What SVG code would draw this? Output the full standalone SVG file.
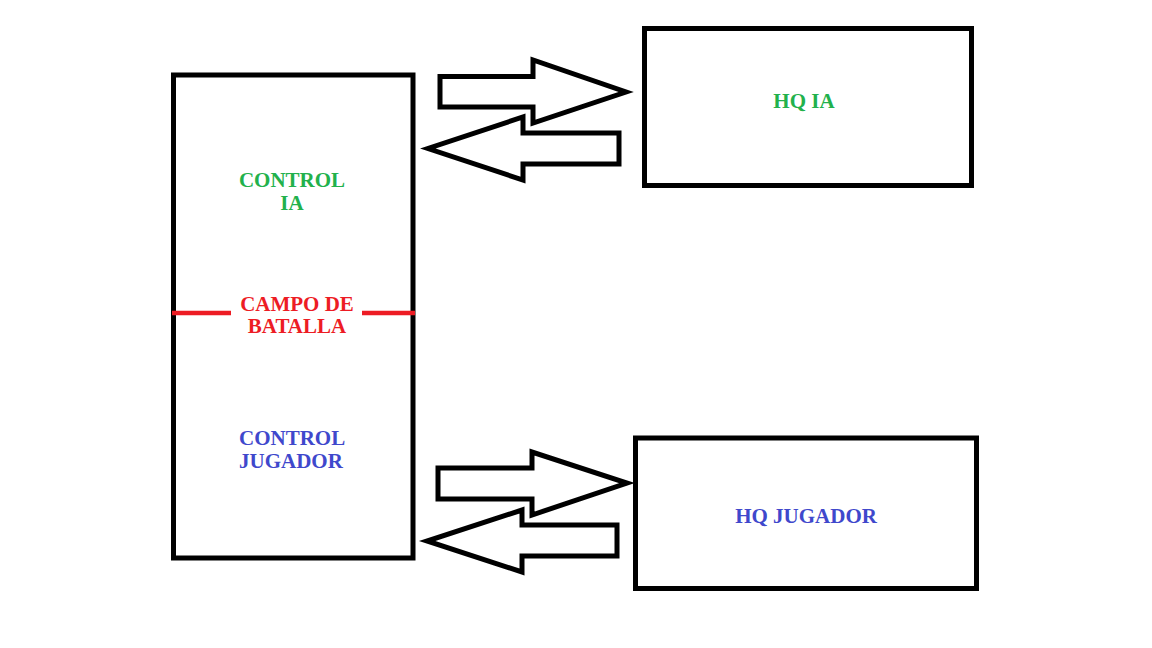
<svg xmlns="http://www.w3.org/2000/svg" width="1152" height="648" viewBox="0 0 1152 648">
<style>
.box{fill:none;stroke:#000;stroke-width:5}
.arr{fill:#fff;stroke:#000;stroke-width:5;stroke-linejoin:miter}
.t{font-family:"Liberation Serif","Times New Roman",serif;font-weight:bold;font-size:21px}
.g{fill:#22b14c}.r{fill:#ed1c24}.b{fill:#3f48cc}
</style>
<rect width="1152" height="648" fill="#fff"/>
<g id="campo">
<rect class="box" x="173.5" y="75" width="239.5" height="483"/>
<line x1="172" y1="313" x2="231" y2="313" stroke="#ed1c24" stroke-width="4.5"/>
<line x1="362" y1="313" x2="415" y2="313" stroke="#ed1c24" stroke-width="4.5"/>
<text class="t g" text-anchor="middle" x="292" y="187">CONTROL</text>
<text class="t g" text-anchor="middle" x="292" y="210">IA</text>
<text class="t r" text-anchor="middle" x="297" y="311">CAMPO DE</text>
<text class="t r" text-anchor="middle" x="297" y="333">BATALLA</text>
<text class="t b" x="239" y="445">CONTROL</text>
<text class="t b" x="239" y="468">JUGADOR</text>
</g>
<g id="hq-ia">
<rect class="box" x="644.5" y="28.5" width="327" height="157"/>
<text class="t g" text-anchor="middle" x="804" y="108">HQ IA</text>
</g>
<g id="hq-jugador">
<rect class="box" x="635.5" y="438" width="341" height="150.5"/>
<text class="t b" text-anchor="middle" x="806" y="523">HQ JUGADOR</text>
</g>
<g id="connectors">
<polygon class="arr" points="440,76.5 533,76.5 533,60 626,92 533,123 533,107 440,107"/>
<polygon class="arr" points="619,133 523,133 523,117 428,148.5 523,180 523,164 619,164"/>
<polygon class="arr" points="438,468 532,468 532,452 627,483 532,515 532,499 438,499"/>
<polygon class="arr" points="617,525 522,525 522,510 427,541 522,572 522,556 617,556"/>
</g>
</svg>
